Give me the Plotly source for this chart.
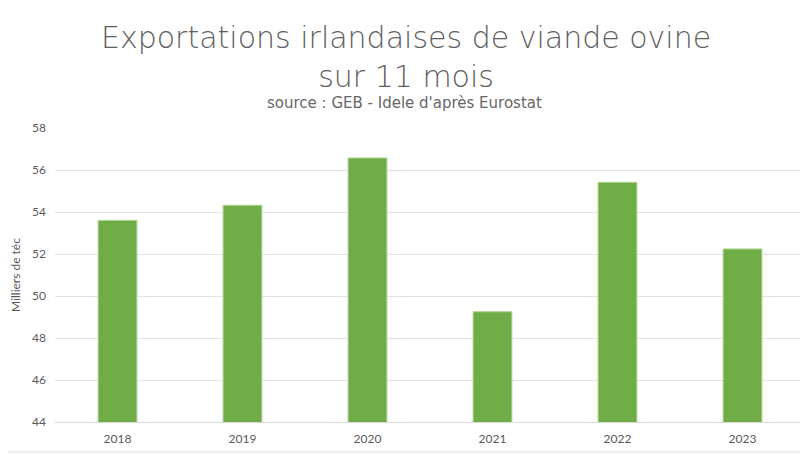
import plotly.graph_objects as go

years = ["2018", "2019", "2020", "2021", "2022", "2023"]
exports = [53.6, 54.32, 56.57, 49.25, 55.41, 52.24]  # milliers de téc
y_ticks = [44, 46, 48, 50, 52, 54, 56, 58]

grey = "#595959"
fnt = "Lato"
tfnt = "DejaVu Sans"

# page body has 8px margin, so plot area on screen = 55..805 x 128..422
fig = go.Figure()
fig.add_trace(go.Bar(x=years, y=exports, width=0.31,
                     marker=dict(color="#70AD47", line=dict(color="#A9D18E", width=1))))

fig.update_layout(
    width=808, height=455,
    margin=dict(l=47, r=11, t=120, b=41),
    paper_bgcolor="white", plot_bgcolor="white",
    showlegend=False,
    font=dict(family=fnt, color=grey, size=12),
    xaxis=dict(showgrid=False, showline=True, linecolor="#d9d9d9", linewidth=1,
               automargin=False,
               ticks="", ticklabelstandoff=6, tickfont=dict(size=12, color=grey)),
    yaxis=dict(range=[44, 58], tickvals=y_ticks, showgrid=True, gridcolor="#e3e3e3",
               gridwidth=1, zeroline=False, ticks="", ticklabelstandoff=8,
               automargin=False,
               tickfont=dict(size=12, color=grey),
               title=dict(text="Milliers de téc", font=dict(size=12, color=grey), standoff=26)),
)

fig.add_annotation(text="Exportations irlandaises de viande ovine<br>sur 11 mois",
                   x=0.468, y=(422 - 57) / 294, xref="paper", yref="paper", xanchor="center",
                   yanchor="middle", showarrow=False,
                   font=dict(size=30, color="#606060", family=tfnt, weight=300))
fig.add_annotation(text="source : GEB - Idele d'après Eurostat",
                   x=0.466, y=(422 - 103) / 294, xref="paper", yref="paper", xanchor="center",
                   yanchor="middle", showarrow=False,
                   font=dict(size=15, color="#666666", family=tfnt))

# chart frame line at the bottom
fig.add_shape(type="line", xref="paper", yref="paper", x0=-0.08, x1=1.02,
              y0=(422 - 452) / 294, y1=(422 - 452) / 294,
              line=dict(color="#d9d9d9", width=1))

fig.write_html("out.html")
